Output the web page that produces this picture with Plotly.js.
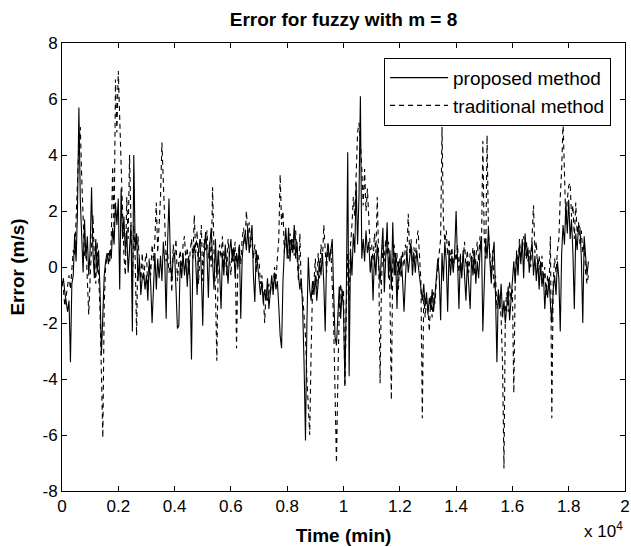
<!DOCTYPE html>
<html>
<head>
<meta charset="utf-8">
<script src="https://cdn.plot.ly/plotly-3.0.1.min.js"></script>
<style>html,body{margin:0;padding:0;background:#fff;}#chart{width:631px;height:547px;}</style>
</head>
<body>
<div id="chart"></div>
<script>
// Time axis in units of 10^4 min, one sample every 0.005 (50 min)
const timeStart = 0;
const timeStep = 0.005;

// Error of the proposed method (m/s)
const proposed = [
-0.7,-0.4,-0.9,-1.3,-1.6,-1.2,-3.4,-0.6,-0.3,1.2,0.2,2.0,5.7,2.4,0.9,-0.2,1.7,0.3,1.1,-0.3,
0.6,2.85,0.5,-0.4,1.0,-0.2,0.6,-0.8,-3.15,-1.8,-0.3,0.2,0.5,0.1,0.6,0.3,1.4,0.8,2.3,1.5,
2.45,-0.8,2.8,1.0,1.8,0.5,1.3,-0.2,0.8,1.5,-2.3,4.0,0.6,1.2,-0.5,0.3,-1.0,-0.4,-0.2,-0.8,
-0.3,-1.2,0.2,-0.6,-2.0,-0.3,0.5,-0.8,0.3,-0.4,0.4,-0.5,0.9,0.2,-1.85,0.8,2.45,0.3,-0.5,0.4,
0.5,-0.8,-2.2,-2.1,0.2,-0.4,0.5,-0.3,0.3,-0.7,0.4,-0.5,-3.3,0.4,0.8,0.2,-1.0,0.6,1.0,-0.2,
-2.1,0.4,1.25,0.5,-1.1,0.8,1.4,0.2,-0.8,1.0,-0.4,0.6,-0.2,-1.5,0.5,-0.3,0.8,0.1,-0.6,0.5,
1.0,0.2,0.7,-0.4,0.5,0.0,0.8,-1.85,0.3,0.9,1.2,0.6,1.4,0.5,0.9,1.5,-0.3,-1.25,0.6,0.1,
-0.4,-1.0,-0.5,-1.3,-0.8,-1.2,-0.4,-1.5,-0.9,-0.3,-1.0,-0.2,-0.8,-0.5,-1.4,-2.45,-2.9,-0.5,0.6,1.4,
0.3,1.4,0.2,1.0,0.5,1.5,0.3,0.9,-0.3,-0.8,-0.4,-1.5,-3.5,-6.2,-2.0,0.35,-0.8,-1.2,-0.5,-1.0,
-0.3,-1.2,-0.6,0.2,-0.3,0.5,-0.6,-2.3,0.4,0.8,0.2,0.6,1.0,-0.9,-2.5,-2.8,-1.5,-0.7,-1.85,-0.8,
-1.5,-4.2,-1.0,4.1,-3.9,0.65,-0.3,1.2,0.5,3.0,0.8,2.5,6.1,0.3,1.0,0.2,1.3,0.5,0.9,-0.2,
0.4,-1.2,0.5,-0.3,0.8,0.0,-0.6,0.5,1.4,-0.9,0.3,1.6,-0.4,0.6,-0.8,1.6,-0.3,0.5,-1.5,0.2,
-0.3,0.4,-0.5,-1.6,-0.4,0.6,-0.2,0.3,0.8,-0.3,0.5,-0.2,0.6,0.1,-0.4,-0.8,-1.2,-0.6,-1.4,-0.9,
-1.7,-1.1,-1.5,-0.8,-1.6,-1.0,-0.4,0.3,-0.3,-1.9,0.5,-0.5,0.9,0.2,-1.6,0.6,-0.3,0.4,-0.2,0.5,
2.0,-0.2,-1.5,0.3,-0.4,0.6,-0.3,-1.2,0.2,-0.5,-1.5,0.4,-0.3,0.6,-0.6,0.2,-0.4,0.5,1.1,-2.3,
-0.5,1.0,0.3,1.4,0.2,-0.6,0.4,0.9,-1.0,-3.4,-0.8,-1.5,-0.6,-1.8,-1.2,-2.0,-1.4,-0.7,-1.9,-1.0,
-0.5,0.2,-0.6,0.5,-0.3,0.8,0.1,1.0,-0.4,1.2,0.3,0.7,-0.2,0.5,0.9,-0.3,0.4,-0.5,0.3,-0.8,
0.2,-0.7,-0.2,-1.5,-0.6,-1.1,-0.4,-1.3,-2.0,-0.8,-0.3,-1.0,0.2,-0.4,-2.3,0.5,1.5,0.8,2.3,1.2,
2.4,1.0,1.7,0.5,-1.5,1.2,0.6,1.5,1.4,0.3,-2.0,1.1,0.4,-0.3,0.2
];

// Error of the traditional method (m/s)
const traditional = [
-0.5,-0.8,-1.4,-1.0,-0.6,-0.3,-0.8,0.0,0.6,0.4,1.5,3.0,4.4,5.0,3.2,1.5,0.4,0.8,-0.6,-1.7,
-0.4,0.8,1.85,0.3,-0.6,0.9,-0.2,-1.5,-3.8,-6.1,-1.3,0.0,0.4,0.5,0.2,1.0,3.6,1.2,6.7,4.8,
7.0,5.5,4.2,2.0,0.4,-0.3,2.5,1.0,4.0,1.2,-0.8,1.5,0.3,-2.45,1.1,0.2,-0.6,0.5,-0.5,0.2,
0.5,-0.8,0.3,-0.3,0.8,0.2,1.0,2.3,0.5,1.5,2.5,4.45,2.8,1.0,0.2,0.6,-0.2,0.2,-0.9,0.8,
0.3,1.0,-0.5,0.2,0.6,-0.2,0.8,1.1,0.2,0.7,-0.3,0.5,1.0,0.3,1.85,0.5,1.3,-0.6,0.4,1.5,
-0.5,1.0,0.6,1.3,0.3,0.9,0.0,2.85,0.5,-0.8,-3.35,0.2,0.8,0.3,1.1,0.0,0.6,-0.3,1.0,0.2,
-0.3,0.7,0.2,0.9,-2.9,0.3,0.8,0.1,1.0,1.4,0.8,2.0,1.2,1.6,0.7,1.1,0.3,0.8,-0.2,0.5,
0.2,-0.6,-0.3,-1.0,-2.0,-0.8,-1.2,-0.6,-1.0,-0.4,-0.8,0.0,-0.5,0.3,1.0,3.3,1.5,2.0,0.5,1.2,
0.8,0.3,1.2,0.6,1.0,0.4,1.3,0.2,-0.5,1.2,-0.8,-1.0,-1.8,-2.5,-4.0,-5.0,-6.0,-3.0,-0.8,-0.5,
0.3,-0.8,0.5,-0.4,0.8,0.2,1.5,0.6,-0.2,0.9,0.3,0.7,-0.5,-2.0,-4.5,-7.0,-4.0,-1.5,-0.6,-1.2,
-0.8,-4.3,-1.5,0.5,-1.2,0.8,1.5,2.5,1.8,3.5,4.8,5.15,4.5,3.5,2.2,3.5,2.0,2.8,1.5,0.6,
0.8,0.2,1.2,0.5,2.5,0.3,-4.15,-0.5,0.8,0.2,1.0,0.4,0.9,-1.0,-4.75,0.2,0.8,-0.3,0.5,-0.8,
0.3,-0.4,0.6,0.0,0.8,0.4,1.9,0.5,1.0,0.2,0.7,0.3,1.0,1.3,0.4,-0.5,-5.4,-1.0,-1.8,-1.2,
-1.5,-2.3,-1.0,-1.8,-0.9,-1.3,-0.5,0.0,0.4,1.0,5.0,1.6,0.9,1.3,0.4,1.0,0.2,0.7,-0.1,0.6,
0.2,0.8,-0.2,0.5,-0.3,0.4,0.9,0.0,0.6,-0.2,0.5,0.1,0.7,-0.3,0.4,0.9,0.2,1.1,0.6,4.5,
1.0,0.3,4.7,1.2,0.5,-0.3,0.6,-0.8,-0.3,-1.5,-0.9,-1.2,-1.8,-3.5,-7.2,-1.5,-0.9,-1.6,-0.5,-1.2,
-0.8,-4.5,-0.5,0.6,0.0,1.0,0.3,0.8,1.1,0.4,0.9,0.2,0.6,0.0,1.2,2.2,0.5,0.9,-0.2,0.4,
-0.3,0.4,-0.6,0.0,-1.0,-0.3,-0.8,1.1,-5.4,-0.5,0.3,-0.2,0.6,1.0,2.5,3.5,5.2,2.8,1.5,2.4,
2.9,3.0,1.8,2.2,1.0,2.3,1.2,1.6,0.8,1.3,0.5,0.9,-0.2,-0.6,-0.3
];

const xTickVals = [0,0.2,0.4,0.6,0.8,1,1.2,1.4,1.6,1.8,2];
const xTickText = ['0','0.2','0.4','0.6','0.8','1','1.2','1.4','1.6','1.8','2'];
const yTickVals = [-8,-6,-4,-2,0,2,4,6,8];
const yTickText = ['-8','-6','-4','-2','0','2','4','6','8'];
const seriesNames = ['proposed method','traditional method'];

const time = proposed.map((_, i) => +(timeStart + i * timeStep).toFixed(4));

const FONT = 'Liberation Sans, Arial, Helvetica, sans-serif';

const traces = [
  {x: time, y: proposed, name: seriesNames[0], type: 'scatter', mode: 'lines',
   line: {color: '#000', width: 1.1}},
  {x: time, y: traditional, name: seriesNames[1], type: 'scatter', mode: 'lines',
   line: {color: '#000', width: 1.1, dash: '5px,4px'}}
];

const axisCommon = {
  showgrid: false, zeroline: false, showline: true, linecolor: '#000', linewidth: 1,
  mirror: 'allticks', ticks: 'inside', ticklen: 5, tickcolor: '#000', tickwidth: 1,
  tickfont: {family: FONT, size: 17, color: '#000'}, tickmode: 'array',
  ticklabeloverflow: 'allow'
};

const layout = {
  width: 631, height: 547,
  margin: {l: 62, r: 6, t: 43, b: 56},
  paper_bgcolor: '#fff', plot_bgcolor: '#fff',
  font: {family: FONT, color: '#000'},
  title: {text: '<b>Error for fuzzy with m = 8</b>', font: {family: FONT, size: 19, color: '#000'},
          xref: 'paper', x: 0.5, xanchor: 'center', yref: 'container', y: 0.965, yanchor: 'middle'},
  xaxis: Object.assign({}, axisCommon, {
    range: [0, 2], tickvals: xTickVals, ticktext: xTickText,
    title: {text: '<b>Time (min)</b>', font: {family: FONT, size: 19, color: '#000'}, standoff: 13}
  }),
  yaxis: Object.assign({}, axisCommon, {
    range: [-8, 8], tickvals: yTickVals, ticktext: yTickText,
    title: {text: '<b>Error (m/s)</b>', font: {family: FONT, size: 19, color: '#000'}, standoff: 12}
  }),
  showlegend: true,
  legend: {x: 0.572, xanchor: 'left', y: 0.967, yanchor: 'top',
           bgcolor: '#fff', bordercolor: '#000', borderwidth: 1, itemwidth: 58,
           font: {family: FONT, size: 19, color: '#000'}},
  annotations: [
    {text: 'x 10<sup>4</sup>', xref: 'paper', yref: 'paper', x: 1.0, y: -0.088,
     xanchor: 'right', yanchor: 'middle', showarrow: false,
     font: {family: FONT, size: 17, color: '#000'}}
  ]
};

Plotly.newPlot('chart', traces, layout, {displayModeBar: false, staticPlot: true});
</script>
</body>
</html>
